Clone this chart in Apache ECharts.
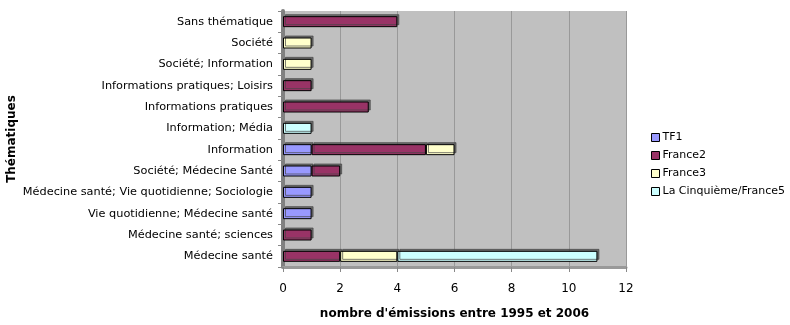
<!DOCTYPE html>
<html><head><meta charset="utf-8">
<script src="https://cdn.jsdelivr.net/npm/echarts@6/dist/echarts.min.js"></script>
<style>html,body{margin:0;padding:0;background:#fff}#c{width:790px;height:325px}</style>
</head><body><div id="c"></div>
<script>
const categories = ["Sans thématique","Société","Société; Information","Informations pratiques; Loisirs","Informations pratiques","Information; Média","Information","Société; Médecine Santé","Médecine santé; Vie quotidienne; Sociologie","Vie quotidienne; Médecine santé","Médecine santé; sciences","Médecine santé"];
const tf1      = [null,null,null,null,null,null,1,1,1,1,null,null];
const france2  = [4,null,null,1,3,null,4,1,null,null,1,2];
const france3  = [null,1,1,null,null,null,1,null,null,null,null,2];
const france5  = [null,null,null,null,null,1,null,null,null,null,null,7];
const seriesNames = ["TF1","France2","France3","La Cinquième/France5"];
const colors = ["#9999ff","#993366","#ffffcc","#ccffff"];
const xTicks = {min:0,max:12,interval:2};

const font = "DejaVu Sans";
const chart = echarts.init(document.getElementById('c'));
const mk = (name, data, i) => ({
  name, type:'bar', stack:'s', data, barWidth:11,
  itemStyle:{color:colors[i], borderColor:'#000', borderWidth:1,
    shadowColor:'rgba(70,70,70,0.7)', shadowOffsetX:2, shadowOffsetY:-2, shadowBlur:0}
});
chart.setOption({
  animation:false,
  textStyle:{fontFamily:font},
  grid:{left:283, right:164, top:11, bottom:54, show:true, backgroundColor:'#c0c0c0', borderWidth:0},
  legend:{orient:'vertical', left:646, top:127, itemWidth:8, itemHeight:8, itemGap:7,
    icon:'rect', textStyle:{fontFamily:font, fontSize:11, color:'#000', padding:[0,0,0,-2]},
    itemStyle:{borderColor:'#000', borderWidth:1}, data:seriesNames},
  xAxis:{type:'value', min:xTicks.min, max:xTicks.max, interval:xTicks.interval,
    name:"nombre d'émissions entre 1995 et 2006", nameLocation:'middle', nameGap:41,
    nameTextStyle:{fontFamily:font, fontWeight:'bold', fontSize:12, color:'#000'},
    axisLine:{show:true, lineStyle:{color:'#999', width:3}},
    axisTick:{show:true, length:5, lineStyle:{color:'#888'}},
    axisLabel:{fontFamily:font, fontSize:12, color:'#000', margin:16},
    splitLine:{show:true, lineStyle:{color:'#999', width:1}}},
  yAxis:{type:'category', inverse:true, data:categories,
    name:'Thématiques', nameLocation:'middle', nameGap:265, nameRotate:90,
    nameTextStyle:{fontFamily:font, fontWeight:'bold', fontSize:12, color:'#000'},
    axisLine:{show:true, lineStyle:{color:'#808080', width:4}},
    axisTick:{show:true, length:5, lineStyle:{color:'#888'}},
    axisLabel:{fontFamily:font, fontSize:11.3, color:'#000', margin:10},
    splitLine:{show:false}},
  series:[mk(seriesNames[0],tf1,0), mk(seriesNames[1],france2,1), mk(seriesNames[2],france3,2), mk(seriesNames[3],france5,3)]
});
</script></body></html>
